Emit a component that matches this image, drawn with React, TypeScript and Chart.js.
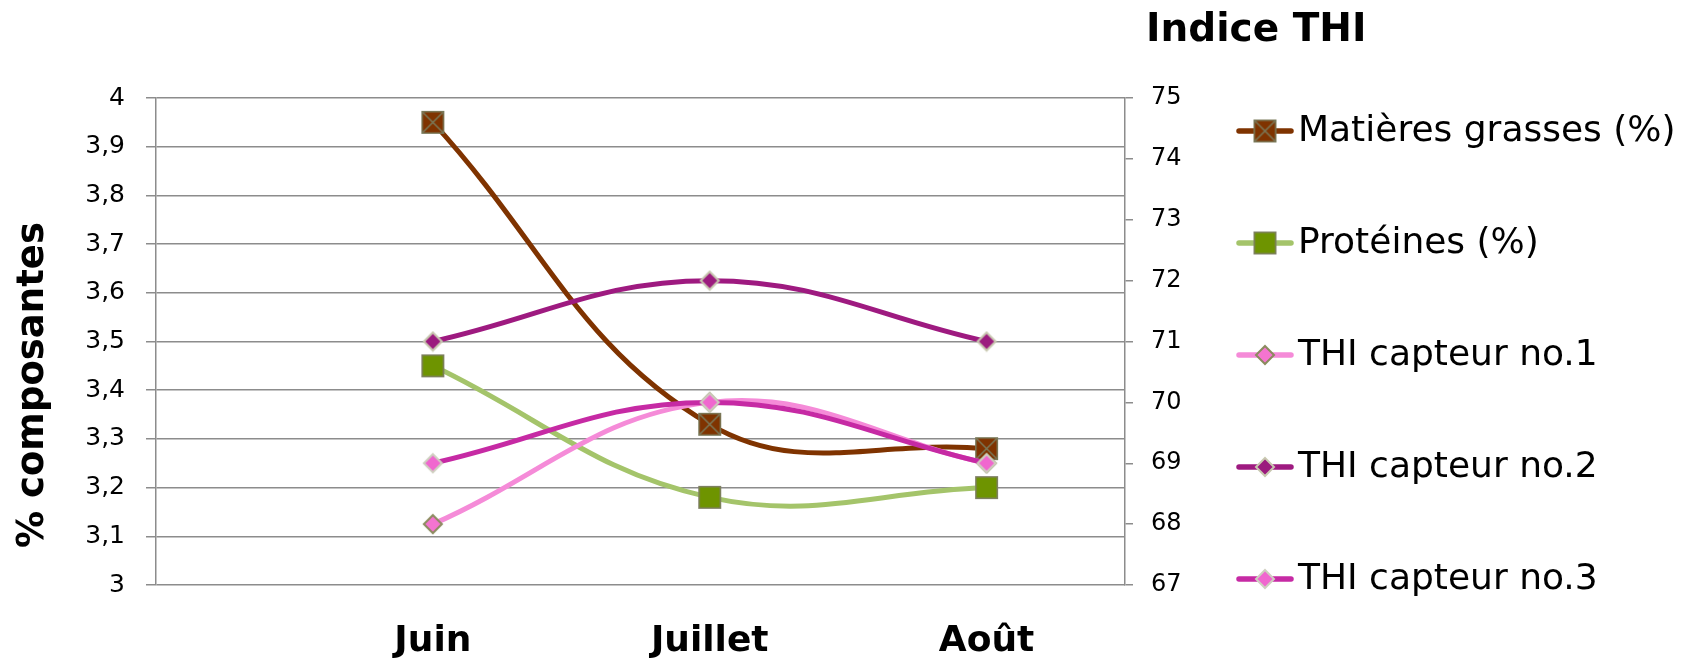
import React, { useEffect, useRef } from 'react';
import { Chart, registerables } from 'chart.js';

Chart.register(...registerables);

const categories = ['Juin', 'Juillet', 'Août'];
const matieresGrasses = [3.95, 3.33, 3.28];
const proteines = [3.45, 3.18, 3.2];
const thiCapteur1 = [68, 70, 69];
const thiCapteur2 = [71, 72, 71];
const thiCapteur3 = [69, 70, 69];
const seriesLabels = [
  'Matières grasses (%)',
  'Protéines (%)',
  'THI capteur no.1',
  'THI capteur no.2',
  'THI capteur no.3',
];
const leftAxisTitle = '% composantes';
const rightAxisTitle = 'Indice THI';

const FONT = '"DejaVu Sans", sans-serif';
const GRID = '#8c8c8c';

function squareMarker(size: number, fill: string, stroke: string, cross: boolean) {
  const c = document.createElement('canvas');
  c.width = size + 2;
  c.height = size + 2;
  const ctx = c.getContext('2d')!;
  ctx.fillStyle = fill;
  ctx.fillRect(1, 1, size, size);
  ctx.strokeStyle = stroke;
  ctx.lineWidth = 1.5;
  ctx.strokeRect(1.75, 1.75, size - 1.5, size - 1.5);
  if (cross) {
    ctx.beginPath();
    ctx.moveTo(2, 2);
    ctx.lineTo(size, size);
    ctx.moveTo(size, 2);
    ctx.lineTo(2, size);
    ctx.stroke();
  }
  return c;
}

function diamondMarker(size: number, fill: string, stroke: string) {
  const c = document.createElement('canvas');
  c.width = size + 4;
  c.height = size + 4;
  const ctx = c.getContext('2d')!;
  const m = (size + 4) / 2;
  const r = size / 2;
  ctx.beginPath();
  ctx.moveTo(m, m - r);
  ctx.lineTo(m + r, m);
  ctx.lineTo(m, m + r);
  ctx.lineTo(m - r, m);
  ctx.closePath();
  ctx.fillStyle = fill;
  ctx.fill();
  ctx.strokeStyle = stroke;
  ctx.lineWidth = 2;
  ctx.stroke();
  return c;
}

const toPoints = (arr: number[]) => arr.map((y, i) => ({ x: i + 1, y }));

export default function App() {
  const ref = useRef<HTMLCanvasElement | null>(null);

  useEffect(() => {
    if (!ref.current) return;
    const markers = [
      squareMarker(23, '#7f3300', '#7a7a5a', true),
      squareMarker(23, '#6e9400', '#7f7f66', false),
      diamondMarker(18, '#f474d0', '#8b8b5e'),
      diamondMarker(18, '#9b1b7e', '#c8c8b0'),
      diamondMarker(18, '#f067cf', '#cfcfc0'),
    ];
    const lineColors = ['#7f3300', '#a4c46a', '#f58bd8', '#9e1a80', '#c62aa4'];
    const values = [matieresGrasses, proteines, thiCapteur1, thiCapteur2, thiCapteur3];
    const axes = ['y', 'y', 'y1', 'y1', 'y1'];

    const datasets = values.map((v, i) => ({
      label: seriesLabels[i],
      data: toPoints(v),
      yAxisID: axes[i],
      borderColor: lineColors[i],
      backgroundColor: lineColors[i],
      borderWidth: 5,
      tension: 0.4,
      pointStyle: markers[i] as any,
      pointRadius: 10,
      order: values.length - i,
    }));

    const decorPlugin = {
      id: 'decor',
      afterDraw(chart: any) {
        const ctx = chart.ctx;
        ctx.save();
        // right axis title
        ctx.fillStyle = '#000';
        ctx.font = `bold 39px ${FONT}`;
        ctx.textBaseline = 'middle';
        ctx.textAlign = 'left';
        ctx.fillText(rightAxisTitle, chart.scales.y1.left + 21, 31);
        // left axis title
        ctx.save();
        ctx.translate(33, 385);
        ctx.rotate(-Math.PI / 2);
        ctx.font = `bold 37px ${FONT}`;
        ctx.textAlign = 'center';
        ctx.textBaseline = 'middle';
        ctx.fillText(leftAxisTitle, 0, 0);
        ctx.restore();
        // legend
        const top = 131;
        const gap = 112;
        chart.data.datasets.forEach((ds: any, i: number) => {
          const y = top + i * gap;
          ctx.strokeStyle = ds.borderColor;
          ctx.lineWidth = 5.5;
          ctx.lineCap = 'round';
          ctx.beginPath();
          ctx.moveTo(1239, y);
          ctx.lineTo(1291, y);
          ctx.stroke();
          const mk = markers[i];
          ctx.drawImage(mk, 1265 - mk.width / 2, y - mk.height / 2);
          ctx.fillStyle = '#000';
          ctx.font = `36px ${FONT}`;
          ctx.textAlign = 'left';
          ctx.textBaseline = 'middle';
          ctx.fillText(ds.label, 1298, y + 1);
        });
        ctx.restore();
      },
    };

    const chart = new Chart(ref.current, {
      type: 'line',
      data: { datasets: datasets as any },
      plugins: [decorPlugin],
      options: {
        animation: false,
        responsive: false,
        events: [],
        layout: { padding: { left: 0, top: 98, right: 465, bottom: 0 } },
        plugins: { legend: { display: false }, tooltip: { enabled: false } },
        scales: {
          x: {
            type: 'linear',
            min: 0,
            max: 3.5,
            afterBuildTicks: (s: any) => {
              s.ticks = categories.map((_, i) => ({ value: i + 1 }));
            },
            afterFit: (s: any) => {
              s.height = 74;
            },
            ticks: {
              callback: (v: any) => categories[Math.round(v) - 1] ?? '',
              font: { family: FONT, size: 36, weight: 'bold' },
              color: '#000',
              padding: 27,
              maxRotation: 0,
              autoSkip: false,
            },
            grid: { display: false },
            border: { display: false },
          },
          y: {
            position: 'left',
            min: 3,
            max: 4,
            afterFit: (s: any) => {
              s.width = 156;
            },
            ticks: {
              stepSize: 0.1,
              callback: (v: any) => String(+Number(v).toFixed(1)).replace('.', ','),
              font: { family: FONT, size: 25 },
              color: '#000',
              padding: 21,
            },
            grid: { color: GRID, lineWidth: 1.5, tickLength: 10, drawTicks: true },
            border: { display: true, color: GRID, width: 1.5 },
          },
          y1: {
            position: 'right',
            min: 67,
            max: 75,
            afterFit: (s: any) => {
              s.width = 110;
            },
            ticks: {
              stepSize: 1,
              font: { family: FONT, size: 24 },
              color: '#000',
              padding: 18,
            },
            grid: { drawOnChartArea: false, color: GRID, lineWidth: 1.5, tickLength: 8 },
            border: { display: true, color: GRID, width: 1.5 },
          },
        },
      } as any,
    });
    return () => chart.destroy();
  }, []);

  return (
    <div style={{ position: 'fixed', left: 0, top: 0, width: 1700, height: 659, background: '#fff' }}>
      <canvas ref={ref} width={1700} height={659} style={{ width: 1700, height: 659, display: 'block' }} />
    </div>
  );
}
